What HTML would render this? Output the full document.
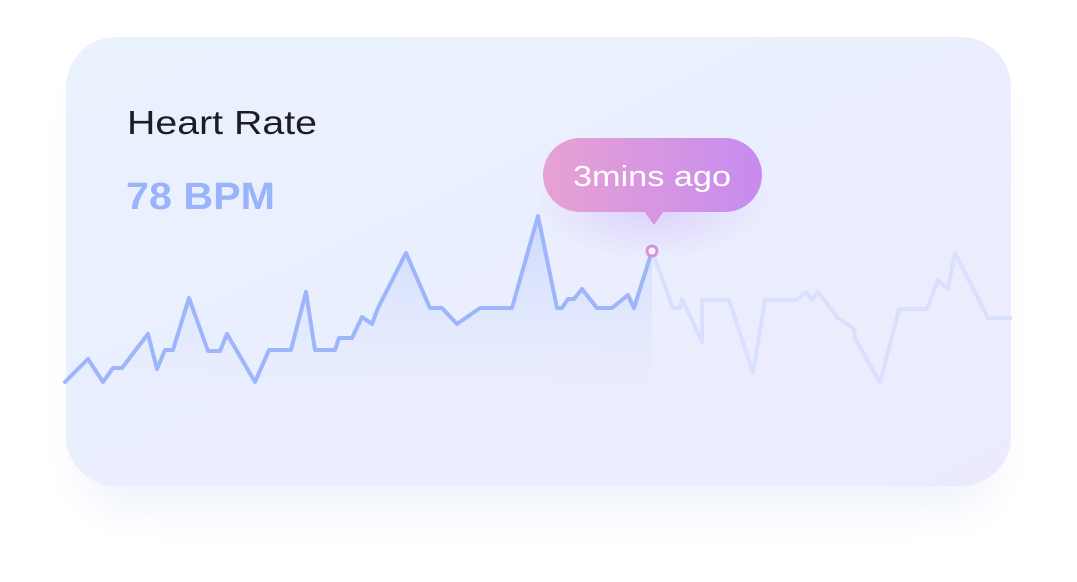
<!DOCTYPE html>
<html><head><meta charset="utf-8"><style>
html,body{margin:0;padding:0;width:1077px;height:582px;background:#fff;overflow:hidden;font-family:"Liberation Sans",sans-serif}
</style></head><body>
<svg width="1077" height="582">
<defs>
<linearGradient id="cardBg" x1="0" y1="0" x2="1" y2="1"><stop offset="0" stop-color="#eaf2fe"/><stop offset="1" stop-color="#ebebfd"/></linearGradient>
<linearGradient id="pill" x1="0" y1="0" x2="1" y2="0"><stop offset="0" stop-color="#e7a2d3"/><stop offset="1" stop-color="#c68bef"/></linearGradient>
<linearGradient id="area" x1="0" y1="0" x2="0" y2="1"><stop offset="0" stop-color="#c9d6fd" stop-opacity="0.9"/><stop offset="1" stop-color="#dfe6fd" stop-opacity="0"/></linearGradient>
<radialGradient id="glow" cx="0.5" cy="0.5" r="0.5"><stop offset="0" stop-color="#d6c6fb" stop-opacity="0.8"/><stop offset="1" stop-color="#d6c6fb" stop-opacity="0"/></radialGradient>
<filter id="sh" x="-20%" y="-20%" width="140%" height="150%"><feGaussianBlur stdDeviation="18"/></filter>
</defs>
<rect x="80" y="70" width="916" height="440" rx="50" fill="#e6ecfb" opacity="0.6" filter="url(#sh)"/>
<rect x="66" y="37" width="945" height="449" rx="50" fill="url(#cardBg)"/>
<ellipse cx="652" cy="200" rx="120" ry="60" fill="url(#glow)"/>
<text x="127" y="134" font-size="33" fill="#1c1c24" textLength="190" lengthAdjust="spacingAndGlyphs">Heart Rate</text>
<text x="126" y="209" font-size="38" font-weight="bold" fill="#9ab4fb" textLength="149" lengthAdjust="spacingAndGlyphs">78 BPM</text>
<g id="chart"></g>
<g>
<rect x="543" y="138" width="219" height="74" rx="37" fill="url(#pill)"/>
<path d="M644 211 L654 225 L664 211 Z" fill="#d697e2"/>
<text x="573" y="186" font-size="29" fill="#fff" textLength="158" lengthAdjust="spacingAndGlyphs">3mins ago</text>
</g>
</svg>
<script>
const times=[0,23,38,48,57,83,92,100,108,124,143,155,162,190,204,226,241,250,270,274,287,297,307,313,341,365,377,392,415,447,473,492,497,503,509,517,532,547,563,569,587,608,615,617,637,637,664,688,700,731,741,747,753,773,789,790,815,834,862,873,883,890,923,947];
const values=[18,41,18,32,32,66,31,50,50,102,49,49,66,18,50,50,108,50,50,62,62,83,76,92,147,92,92,76,92,92,184,92,92,101,101,111,92,92,105,92,149,92,92,101,58,100,100,27,100,100,108,100,108,82,71,62,17,91,91,120,111,147,82,82];
const splitIndex=40;
const x=t=>65+t, y=v=>400-v;
const g=document.getElementById('chart');
const ns='http://www.w3.org/2000/svg';
const pts=times.map((t,i)=>[x(t),y(values[i])]);
const solid=pts.slice(0,splitIndex+1), faded=pts.slice(splitIndex);
const d=a=>a.map((p,i)=>(i?'L':'M')+p[0]+' '+p[1]).join(' ');
const area=document.createElementNS(ns,'path');
area.setAttribute('d',d(solid)+` L${solid[solid.length-1][0]} 400 L${solid[0][0]} 400 Z`);
area.setAttribute('fill','url(#area)');


g.appendChild(area);
const f=document.createElementNS(ns,'path');
f.setAttribute('d',d(faded));f.setAttribute('fill','none');f.setAttribute('stroke','#d8e0fd');f.setAttribute('stroke-width','4');f.setAttribute('stroke-linejoin','round');


g.appendChild(f);
const s=document.createElementNS(ns,'path');
s.setAttribute('d',d(solid));s.setAttribute('fill','none');s.setAttribute('stroke','#9cb5fb');s.setAttribute('stroke-width','4');s.setAttribute('stroke-linejoin','round');s.setAttribute('stroke-linecap','round');


g.appendChild(s);
const c=document.createElementNS(ns,'circle');
const cp=pts[splitIndex];
c.setAttribute('cx',cp[0]);c.setAttribute('cy',cp[1]);c.setAttribute('r','5');c.setAttribute('fill','#fff');c.setAttribute('stroke','#d88fe0');c.setAttribute('stroke-width','3');


g.appendChild(c);
</script>
</body></html>
